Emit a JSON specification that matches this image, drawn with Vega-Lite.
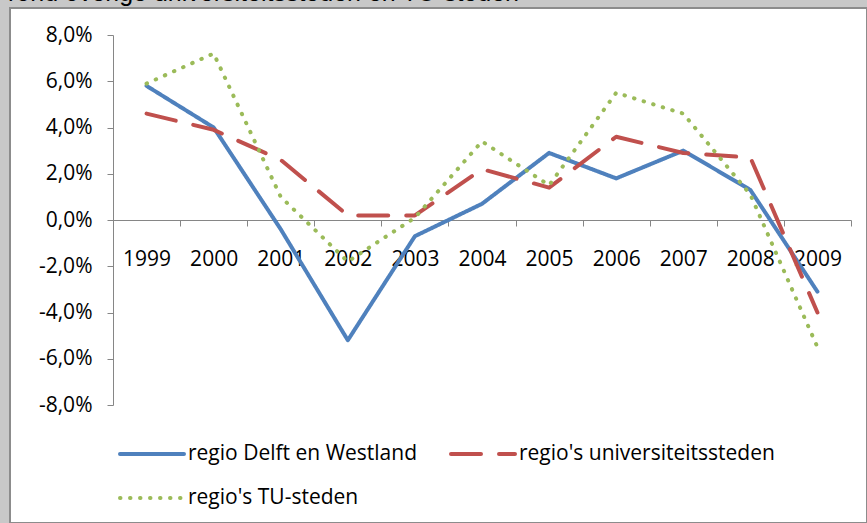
{
  "$schema": "https://vega.github.io/schema/vega-lite/v6.json",
  "width": 857,
  "height": 515,
  "autosize": {"type": "none"},
  "padding": {"left": 10, "top": 8, "right": 0, "bottom": 0},
  "background": "#c8c8c8",
  "title": {
    "text": "rond overige universiteitssteden en TU-steden",
    "anchor": "start",
    "frame": "group",
    "offset": 0,
    "baseline": "alphabetic",
    "dx": -2,
    "dy": 18,
    "font": "Liberation Sans",
    "fontSize": 25,
    "fontWeight": "normal",
    "color": "#000000"
  },
  "config": {
    "locale": {"number": {"decimal": ",", "thousands": ".", "grouping": [3], "currency": ["€", ""], "minus": "-"}},
    "view": {"fill": "#ffffff", "stroke": "#8c8c8c", "strokeWidth": 2},
    "axis": {
      "labelFont": "Open Sans",
      "labelFontSize": 21,
      "labelColor": "#000000",
      "domainColor": "#868686",
      "tickColor": "#868686",
      "domainWidth": 1,
      "tickWidth": 1,
      "tickSize": 6,
      "grid": false,
      "title": null
    }
  },
  "data": {
    "values": [
      {"year": "1999", "series": "regio Delft en Westland", "value": 0.058},
      {"year": "2000", "series": "regio Delft en Westland", "value": 0.040},
      {"year": "2001", "series": "regio Delft en Westland", "value": -0.004},
      {"year": "2002", "series": "regio Delft en Westland", "value": -0.052},
      {"year": "2003", "series": "regio Delft en Westland", "value": -0.007},
      {"year": "2004", "series": "regio Delft en Westland", "value": 0.007},
      {"year": "2005", "series": "regio Delft en Westland", "value": 0.029},
      {"year": "2006", "series": "regio Delft en Westland", "value": 0.018},
      {"year": "2007", "series": "regio Delft en Westland", "value": 0.030},
      {"year": "2008", "series": "regio Delft en Westland", "value": 0.013},
      {"year": "2009", "series": "regio Delft en Westland", "value": -0.031},
      {"year": "1999", "series": "regio's universiteitssteden", "value": 0.046},
      {"year": "2000", "series": "regio's universiteitssteden", "value": 0.039},
      {"year": "2001", "series": "regio's universiteitssteden", "value": 0.026},
      {"year": "2002", "series": "regio's universiteitssteden", "value": 0.002},
      {"year": "2003", "series": "regio's universiteitssteden", "value": 0.002},
      {"year": "2004", "series": "regio's universiteitssteden", "value": 0.022},
      {"year": "2005", "series": "regio's universiteitssteden", "value": 0.014},
      {"year": "2006", "series": "regio's universiteitssteden", "value": 0.036},
      {"year": "2007", "series": "regio's universiteitssteden", "value": 0.029},
      {"year": "2008", "series": "regio's universiteitssteden", "value": 0.027},
      {"year": "2009", "series": "regio's universiteitssteden", "value": -0.040},
      {"year": "1999", "series": "regio's TU-steden", "value": 0.059},
      {"year": "2000", "series": "regio's TU-steden", "value": 0.072},
      {"year": "2001", "series": "regio's TU-steden", "value": 0.010},
      {"year": "2002", "series": "regio's TU-steden", "value": -0.018},
      {"year": "2003", "series": "regio's TU-steden", "value": 0.001},
      {"year": "2004", "series": "regio's TU-steden", "value": 0.034},
      {"year": "2005", "series": "regio's TU-steden", "value": 0.015},
      {"year": "2006", "series": "regio's TU-steden", "value": 0.055},
      {"year": "2007", "series": "regio's TU-steden", "value": 0.046},
      {"year": "2008", "series": "regio's TU-steden", "value": 0.011},
      {"year": "2009", "series": "regio's TU-steden", "value": -0.055}
    ]
  },
  "mark": {"type": "line", "strokeWidth": 4, "strokeCap": "round", "strokeJoin": "round"},
  "encoding": {
    "x": {
      "field": "year",
      "type": "ordinal",
      "bandPosition": 0.5,
      "scale": {"type": "band", "range": [103, 841], "paddingInner": 0, "paddingOuter": 0},
      "axis": {"orient": "bottom", "offset": -303, "tickBand": "extent", "labelAngle": 0, "labelPadding": 22, "labelBaseline": "top"}
    },
    "y": {
      "field": "value",
      "type": "quantitative",
      "scale": {"domain": [-0.08, 0.08], "range": [397, 27], "nice": false, "zero": false},
      "axis": {"orient": "left", "offset": -103, "values": [-0.08, -0.06, -0.04, -0.02, 0, 0.02, 0.04, 0.06, 0.08], "format": ".1%", "labelPadding": 15}
    },
    "color": {
      "field": "series",
      "type": "nominal",
      "scale": {
        "domain": ["regio Delft en Westland", "regio's universiteitssteden", "regio's TU-steden"],
        "range": ["#4f81bd", "#c0504d", "#9bbb59"]
      },
      "legend": {
        "title": null,
        "orient": "none",
        "legendX": 108,
        "legendY": 412,
        "columns": 2,
        "direction": "horizontal",
        "symbolType": "stroke",
        "symbolSize": 4096,
        "symbolStrokeWidth": 4,
        "labelFont": "Open Sans",
        "labelFontSize": 21,
        "labelColor": "#000000",
        "labelOffset": 2,
        "rowPadding": -19,
        "columnPadding": 25,
        "padding": 0,
        "labelLimit": 400,
        "encode": {"symbols": {"update": {"strokeCap": {"value": "round"}}}}
      }
    },
    "strokeDash": {
      "field": "series",
      "type": "nominal",
      "scale": {
        "domain": ["regio Delft en Westland", "regio's universiteitssteden", "regio's TU-steden"],
        "range": [[1, 0], [30, 18], [0.5, 9.5]]
      },
      "legend": {
        "title": null,
        "orient": "none",
        "legendX": 108,
        "legendY": 412,
        "columns": 2,
        "direction": "horizontal",
        "symbolType": "stroke",
        "symbolSize": 4096,
        "symbolStrokeWidth": 4,
        "labelFont": "Open Sans",
        "labelFontSize": 21,
        "labelColor": "#000000",
        "labelOffset": 2,
        "rowPadding": -19,
        "columnPadding": 25,
        "padding": 0,
        "labelLimit": 400,
        "encode": {"symbols": {"update": {"strokeCap": {"value": "round"}}}}
      }
    }
  }
}
